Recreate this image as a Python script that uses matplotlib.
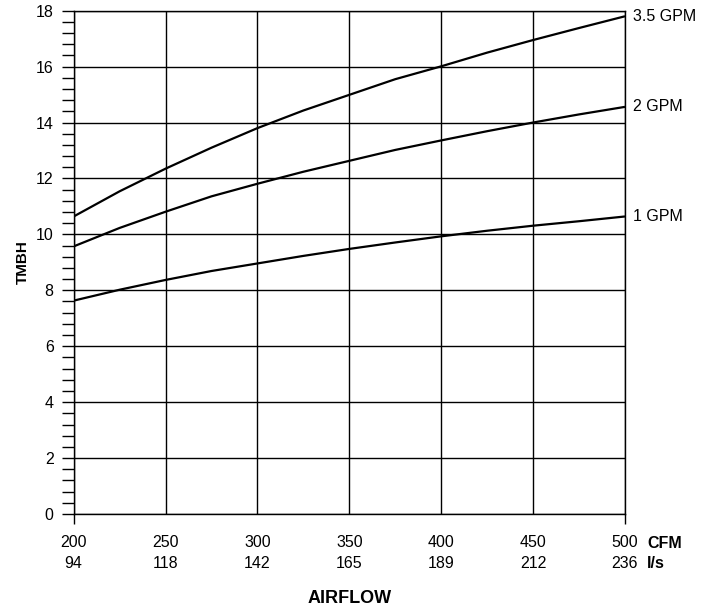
import matplotlib.pyplot as plt
from matplotlib.ticker import MultipleLocator

plt.rcParams['font.family'] = ['Liberation Sans', 'DejaVu Sans']

# x axis ticks: airflow in CFM and the matching l/s labels
cfm_ticks = [200, 250, 300, 350, 400, 450, 500]
lps_labels = ['94', '118', '142', '165', '189', '212', '236']

# points (CFM -> TMBH)
cfm = [200, 225, 250, 275, 300, 325, 350, 375, 400, 425, 450, 475, 500]
tmbh_35gpm = [10.64, 11.54, 12.35, 13.10, 13.80, 14.43, 14.99, 15.55, 16.01, 16.50, 16.95, 17.38, 17.80]
tmbh_2gpm = [9.57, 10.23, 10.81, 11.36, 11.81, 12.24, 12.63, 13.02, 13.36, 13.69, 14.00, 14.29, 14.56]
tmbh_1gpm = [7.63, 8.02, 8.37, 8.69, 8.96, 9.23, 9.48, 9.71, 9.93, 10.13, 10.31, 10.47, 10.64]
curve_names = ['3.5 GPM', '2 GPM', '1 GPM']

fig = plt.figure(figsize=(7.07, 6.10), dpi=100)
ax = fig.add_axes([0.1042, 0.1574, 0.7798, 0.8251])

for vals, name in zip([tmbh_35gpm, tmbh_2gpm, tmbh_1gpm], curve_names):
    ax.plot(cfm, vals, color='black', lw=1.6, solid_capstyle='butt')
    ax.annotate(name, xy=(cfm[-1], vals[-1]), xytext=(6, 0),
                textcoords='offset points', va='center', ha='left',
                fontsize=11.5, annotation_clip=False)

ax.set_xlim(200, 500)
ax.set_ylim(0, 18)

ax.set_xticks(cfm_ticks)
ax.set_xticklabels([f'{c}\n{l}' for c, l in zip(cfm_ticks, lps_labels)],
                   fontsize=11.5, linespacing=1.5)
ax.yaxis.set_major_locator(MultipleLocator(2))
ax.yaxis.set_minor_locator(MultipleLocator(0.4))
ax.tick_params(axis='y', which='both', direction='out', length=8.4, width=1.0,
               labelsize=11.5, pad=6)
ax.tick_params(axis='x', direction='out', length=7, width=1.0, pad=8)

# only the two ends of the x axis carry a visible tick
for t in ax.xaxis.get_major_ticks()[1:-1]:
    t.tick1line.set_visible(False)

ax.grid(True, which='major', color='black', lw=1.0)
for s in ['left', 'right', 'top', 'bottom']:
    ax.spines[s].set_linewidth(1.0)
ax.set_axisbelow(True)

ax.annotate('CFM', xy=(500, 0), xytext=(16, -21), textcoords='offset points',
            ha='left', va='center', fontsize=11.5, fontweight='bold', annotation_clip=False)
ax.annotate('l/s', xy=(500, 0), xytext=(16, -35.5), textcoords='offset points',
            ha='left', va='center', fontsize=11.5, fontweight='bold', annotation_clip=False)

ax.set_ylabel('TMBH', fontsize=11, fontweight='bold')
ax.yaxis.set_label_coords(-0.08, 0.5)
ax.set_xlabel('AIRFLOW', fontsize=13, fontweight='bold')
ax.xaxis.set_label_coords(0.5, -0.151)

fig.savefig('out.png', dpi=100)
